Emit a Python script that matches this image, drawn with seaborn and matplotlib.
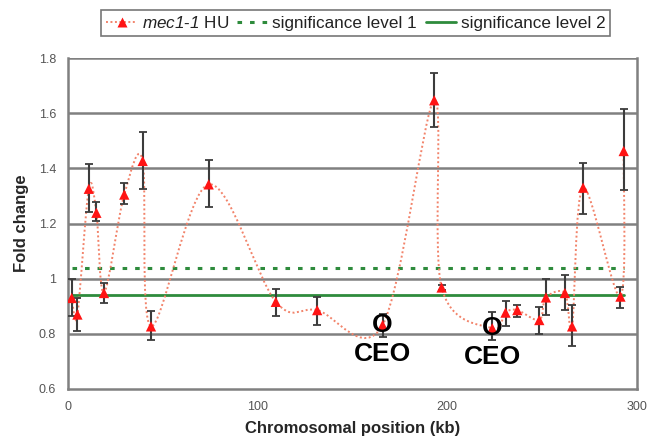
import numpy as np
import pandas as pd
import matplotlib
matplotlib.use('Agg')
import matplotlib.pyplot as plt
from matplotlib.path import Path
from matplotlib.patches import PathPatch
from matplotlib.lines import Line2D
import seaborn as sns

# values
positions = [2, 5, 11, 15, 19, 29.7, 39.4, 43.8, 74.2, 109.6, 131.4, 165.9,
             193.1, 197, 223.7, 230.7, 236.9, 248.5, 252, 262, 265.8, 271.6, 291.3, 293]
fold_change = [0.93, 0.87, 1.326, 1.239, 0.948, 1.305, 1.427, 0.827, 1.342, 0.916, 0.886, 0.832,
               1.647, 0.968, 0.82, 0.877, 0.886, 0.85, 0.932, 0.948, 0.827, 1.33, 0.935, 1.463]
err_upper = [1.0, 0.93, 1.415, 1.277, 0.984, 1.347, 1.532, 0.881, 1.43, 0.963, 0.935, 0.872,
             1.747, 0.978, 0.88, 0.92, 0.905, 0.898, 1.0, 1.015, 0.904, 1.419, 0.971, 1.615]
err_lower = [0.863, 0.81, 1.24, 1.21, 0.91, 1.27, 1.326, 0.778, 1.26, 0.865, 0.832, 0.787,
             1.55, 0.958, 0.778, 0.829, 0.862, 0.80, 0.87, 0.886, 0.754, 1.233, 0.893, 1.32]
sig_level_1 = 1.04
sig_level_2 = 0.94
ceo_positions = [165.9, 223.7]
ceo_values = [0.832, 0.82]

df = pd.DataFrame({'pos': positions, 'fold': fold_change,
                   'hi': err_upper, 'lo': err_lower})

sns.set_style('white')
plt.rcParams['font.family'] = ['Liberation Sans', 'DejaVu Sans']
# italic strain name through mathsf (mathit turns digits upright)
plt.rcParams['mathtext.fontset'] = 'custom'
plt.rcParams['mathtext.sf'] = 'Liberation Sans:italic'
plt.rcParams['mathtext.rm'] = 'Liberation Sans'

fig = plt.figure(figsize=(6.47, 4.40), dpi=100)
ax = fig.add_axes([0.105, 0.116, 0.8795, 0.752])

grid_col = '#808080'
for yv in [0.8, 1.0, 1.2, 1.4, 1.6, 1.8]:
    ax.axhline(yv, color=grid_col, lw=1.8, zorder=1)

# significance levels
sig_df = pd.DataFrame({'x': [min(positions), max(positions)] * 2,
                       'y': [sig_level_1] * 2 + [sig_level_2] * 2,
                       'level': ['1', '1', '2', '2']})
sns.lineplot(data=sig_df[sig_df.level == '1'], x='x', y='y', ax=ax, color='#2e8b3c',
             lw=2.2, linestyle=(0, (1.5, 2.6)), zorder=2)
sns.lineplot(data=sig_df[sig_df.level == '2'], x='x', y='y', ax=ax, color='#2e8b3c',
             lw=2.0, zorder=2)

# smoothed line (Catmull-Rom style bezier like a spreadsheet "smoothed line")
pts = np.column_stack([df.pos, df.fold])
verts = [pts[0]]
codes = [Path.MOVETO]
n = len(pts)
for i in range(n - 1):
    p_prev = pts[max(i - 1, 0)]
    p0, p1 = pts[i], pts[i + 1]
    p_next = pts[min(i + 2, n - 1)]
    c1 = p0 + (p1 - p_prev) / 6
    c2 = p1 - (p_next - p0) / 6
    verts += [c1, c2, p1]
    codes += [Path.CURVE4] * 3
ax.add_patch(PathPatch(Path(verts, codes), facecolor='none', edgecolor='#f2836a',
                       lw=1.4, linestyle=(0, (1, 1.3)), zorder=3))

# error bars
ax.errorbar(df.pos, df.fold, yerr=[df.fold - df.lo, df.hi - df.fold], fmt='none',
            ecolor='#3c3c3c', elinewidth=1.5, capsize=3, capthick=1.3, zorder=4)

sns.scatterplot(data=df, x='pos', y='fold', ax=ax, marker='^', s=55, color='#ff1414',
                edgecolor='none', zorder=5)

# CEO markers
for xp, yp in zip(ceo_positions, ceo_values):
    ax.text(xp, yp, 'O', ha='center', va='center', fontsize=19, fontweight='bold',
            color='black', zorder=6)
    ax.text(xp, yp - 0.105, 'CEO', ha='center', va='center', fontsize=19,
            fontweight='bold', color='black', zorder=6)

ax.set_xlim(0, 300)
ax.set_ylim(0.6, 1.8)
ax.set_xticks([0, 100, 200, 300])
ax.set_yticks([0.6, 0.8, 1.0, 1.2, 1.4, 1.6, 1.8])
ax.set_yticklabels(['0.6', '0.8', '1', '1.2', '1.4', '1.6', '1.8'])
ax.tick_params(axis='both', direction='inout', length=5, width=1.2, color=grid_col,
               labelsize=9, labelcolor='#555555', pad=6)
for side in ['left', 'bottom', 'right', 'top']:
    ax.spines[side].set_color(grid_col)
    ax.spines[side].set_linewidth(1.8)
ax.spines['top'].set_visible(False)

ax.set_xlabel('Chromosomal position (kb)', fontsize=12, fontweight='bold', labelpad=6)
ax.set_ylabel('Fold change', fontsize=12, fontweight='bold', labelpad=7)

handles = [
    Line2D([], [], color='#f2836a', lw=1.4, linestyle=(0, (1, 1.3)), marker='^',
           markersize=7, markerfacecolor='#ff1414', markeredgecolor='none'),
    Line2D([], [], color='#2e8b3c', lw=2.2, linestyle=(0, (1.5, 2.6))),
    Line2D([], [], color='#2e8b3c', lw=2.0),
]
labels = [r'$\mathsf{mec1}$-$\mathsf{1}$ HU', 'significance level 1', 'significance level 2']
leg = fig.legend(handles, labels, loc='center', bbox_to_anchor=(0.55, 0.948), ncol=3,
                 fontsize=12.3, frameon=True, fancybox=False, edgecolor='#555555',
                 handlelength=1.8, handletextpad=0.25, columnspacing=0.5,
                 borderpad=0.3)
leg.get_frame().set_linewidth(1.2)
for t in leg.get_texts():
    t.set_color('#222222')

fig.savefig('out.png', dpi=100)
